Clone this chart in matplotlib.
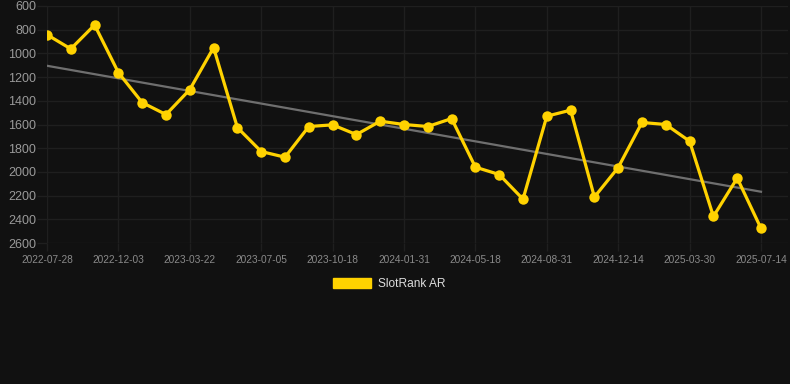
import numpy as np
import matplotlib.pyplot as plt
from matplotlib.patches import Patch

plt.rcParams['font.family'] = ['Liberation Sans', 'DejaVu Sans']

# SlotRank AR, one value per period (category axis)
rank = [842, 962, 760, 1162, 1415, 1516, 1305, 951, 1626, 1828, 1876,
        1617, 1603, 1685, 1572, 1600, 1617, 1550, 1960, 2022, 2230, 1530,
        1479, 2212, 1963, 1583, 1600, 1741, 2376, 2052, 2477]
tick_labels = ['2022-07-28', '2022-12-03', '2023-03-22', '2023-07-05',
               '2023-10-18', '2024-01-31', '2024-05-18', '2024-08-31',
               '2024-12-14', '2025-03-30', '2025-07-14']
y_ticks = [600, 800, 1000, 1200, 1400, 1600, 1800, 2000, 2200, 2400, 2600]

bg = '#111111'
grid = '#1f1f1f'
yellow = '#ffd200'

x = np.arange(len(rank))
slope, icpt = np.polyfit(x, rank, 1)

fig = plt.figure(figsize=(7.9, 3.84), dpi=100, facecolor=bg)
W, H = 790, 384
ax = fig.add_axes([47 / W, (H - 243) / H, (788 - 47) / W, (243 - 6) / H])
ax.set_facecolor(bg)

ax.plot(x, slope * x + icpt, color='#6f6f6f', lw=1.6, zorder=2)
ax.plot(x, rank, color=yellow, lw=2.3, marker='o', ms=7.5,
        markeredgewidth=0, zorder=3)

ax.set_xlim(0, 30 * 741 / 714)
ax.set_ylim(2600, 600)
ax.set_yticks(y_ticks)
ax.set_xticks(x[::3])
ax.set_xticklabels(tick_labels)

for s in ax.spines.values():
    s.set_visible(False)
ax.grid(True, color=grid, lw=1)
ax.tick_params(axis='y', length=7, width=1, color=grid, pad=1,
               labelsize=9, labelcolor='#9a9a9a')
ax.tick_params(axis='x', length=5.5, width=1, color=grid, pad=3,
               labelsize=7.3, labelcolor='#8a8a8a')

handle = Patch(facecolor=yellow, edgecolor=yellow)
fig.legend([handle], ['SlotRank AR'], loc='center', bbox_to_anchor=(389 / W, (H - 284) / H),
           frameon=False, fontsize=8.6, labelcolor='#dddddd',
           handlelength=3.2, handleheight=0.95, handletextpad=0.6)

fig.savefig('out.png', dpi=100, facecolor=bg)
